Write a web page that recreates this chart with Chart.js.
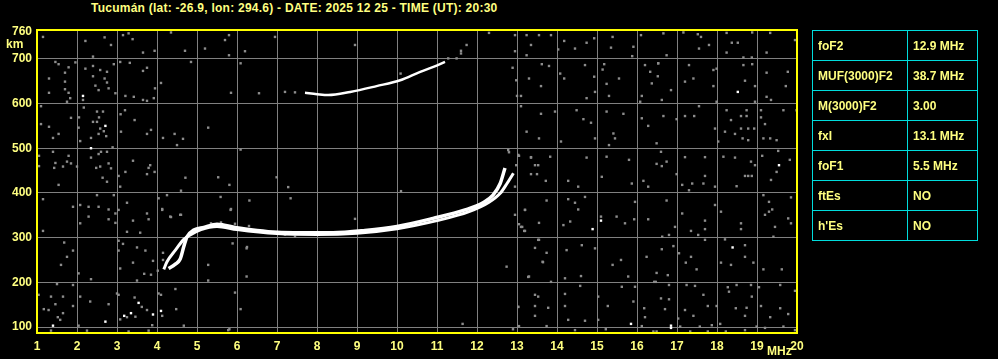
<!DOCTYPE html>
<html>
<head>
<meta charset="utf-8">
<script src="https://cdn.jsdelivr.net/npm/chart.js@4.4.1/dist/chart.umd.min.js"></script>
<style>
  body { margin: 0; background: #000; width: 998px; height: 359px; overflow: hidden; position: relative; }
  #title { position: absolute; left: 91px; top: 1px; color: #ffff80; font: bold 12px "Liberation Sans", Arial, sans-serif; letter-spacing: 0.25px; white-space: nowrap; }
  #params { position: absolute; left: 812px; top: 30px; border-collapse: collapse; border: 1px solid #00dcdc; }
  #params td { border: 1px solid #00dcdc; height: 29px; padding: 0 0 0 5px; color: #ffff80; font: bold 12px "Liberation Sans", Arial, sans-serif; }
  #params td:first-child { width: 89px; }
  #params td:last-child { width: 64px; }
  canvas { position: absolute; left: 0; top: 0; }
</style>
</head>
<body>
<div id="title">Tucumán (lat: -26.9, lon: 294.6) - DATE: 2025 12 25 - TIME (UT): 20:30</div>
<canvas id="ionogram" width="998" height="359"></canvas>
<table id="params"></table>
<script>
// scaled parameters shown in the side table
const paramNames  = ['foF2', 'MUF(3000)F2', 'M(3000)F2', 'fxI', 'foF1', 'ftEs', "h'Es"];
const paramValues = ['12.9 MHz', '38.7 MHz', '3.00', '13.1 MHz', '5.5 MHz', 'NO', 'NO'];

// axis ticks
const freqTicks = [1,2,3,4,5,6,7,8,9,10,11,12,13,14,15,16,17,18,19,20];
const heightTicks = [100, 200, 300, 400, 500, 600, 700, 760];

// F trace, ordinary (MHz, km)
const oFreq   = [4.29, 4.45, 4.58, 4.67, 4.75, 4.92, 5.17, 5.5, 6.0, 6.5, 7.0, 7.6, 8.4, 9.2, 10.0, 10.9, 11.7, 12.15, 12.4, 12.58, 12.7];
const oHeight = [231, 240, 252, 280, 302, 317, 323, 330, 322, 316, 312, 311, 311, 316, 325, 343, 362, 378, 395, 421, 456];
// F trace, extraordinary
const xFreq   = [4.17, 4.25, 4.46, 4.67, 4.83, 5.1, 5.5, 6.0, 7.0, 8.0, 9.0, 10.0, 11.0, 11.8, 12.3, 12.58, 12.75, 12.91];
const xHeight = [229, 246, 272, 296, 306, 318, 325, 318, 309, 307, 310, 320, 338, 358, 379, 399, 421, 444];
// second hop trace
const hopFreq   = [7.7, 8.0, 8.28, 8.83, 9.49, 10.08, 10.58, 10.91, 11.2];
const hopHeight = [624, 621, 619, 626, 639, 652, 671, 682, 693];

// scattered echoes (MHz, km)
const noiseLeft = [[1.15,749],[2.21,740],[2.69,748],[2.85,731],[3.15,753],[3.29,757],[3.39,744],[3.65,714],[3.94,718],[4.35,759],[4.7,718],[2.4,705],[1.46,693],[1.54,688],[1.79,681],[1.96,692],[1.7,669],[1.3,656],[1.7,649],[1.7,632],[1.79,624],[1.3,624],[1.83,612],[1.75,604],[2.15,608],[2.4,684],[2.58,675],[2.75,671],[2.92,688],[2.21,678],[2.4,661],[2.69,656],[2.75,647],[2.46,640],[2.54,630],[2.79,634],[2.96,623],[3.08,693],[3.32,691],[3.65,673],[3.75,680],[4.1,646],[3.95,634],[3.21,617],[3.42,615],[3.65,608],[3.75,606],[3.92,612],[4.85,693],[1.1,594],[2.17,591],[2.5,582],[2.65,582],[2.55,569],[2.05,569],[1.85,568],[2.4,559],[2.5,559],[2.58,544],[2.67,538],[2.54,532],[2.73,527],[2.35,523],[2.08,516],[2.04,546],[1.3,548],[1.1,554],[1.4,523],[1.54,532],[3.09,576],[3.2,585],[3.44,563],[3.1,537],[3.75,532],[3.85,541],[4.15,523],[4.44,532],[4.65,521],[4.5,507],[2.89,502],[2.6,492],[2.75,492],[2.54,487],[2.35,479],[1.4,492],[1.79,483],[1.05,483],[1.46,467],[1.75,470],[1.85,466],[1.65,459],[1.43,456],[1.05,460],[2.0,459],[2.58,459],[2.48,456],[2.79,466],[2.85,455],[3.4,472],[3.83,462],[3.79,456],[3.94,447],[3.75,442],[3.21,447],[3.04,438],[2.64,434],[4.71,434],
  [1.54,418],[2.75,425],[3.08,414],[1.15,386],[2.5,395],[2.92,395],[1.9,369],[2.08,373],[2.29,369],[2.54,369],[2.79,363],[3.04,362],[2.96,354],[2.29,347],[2.08,332],[2.79,341],[2.96,333],[3.25,378],[3.4,338],[3.25,313],[3.58,311],[3.75,354],[3.79,341],[4.13,362],[4.33,347],[4.58,351],[4.04,388],[4.25,395],[4.6,405],[1.15,315],[1.68,289],[1.9,271],[1.75,257],[1.6,239],[2.04,220],[3.04,293],[3.04,271],[3.15,286],[3.5,278],[3.71,271],[3.4,244],[3.08,231],[3.9,248],[3.68,219],[3.85,217],[4.15,266],[4.15,250],[4.02,226],[2.35,207],[3.5,204],[1.5,196],[1.9,194],[1.04,172],[1.35,168],[1.65,168],[2.08,168],[2.33,157],[1.46,151],[1.17,140],[1.29,138],[1.9,147],[1.65,131],[1.52,122],[1.58,116],[2.04,103],[2.79,151],[3.0,175],[3.04,172],[3.44,166],[3.62,145],[3.75,138],[4.04,175],[4.1,172],[4.46,185],[4.48,140],[4.13,125],[3.88,104],[3.08,117],[3.25,122],[3.46,123],[4.67,103],[2.25,92],[3.29,90],[3.79,92],[1.35,92]];

const noiseMid = [[5.7,742],[5.8,753],[5.8,708],[6.2,717],[6.95,749],[8.95,731],[12.3,758],[12.95,753],[12.95,717],[5.2,723],[6.09,690],[5.85,624],[6.55,623],[10.09,667],[12.89,680],[12.98,652],[13.0,617],[5.28,546],[6.09,497],[5.53,435],[5.81,418],[6.99,435],[7.28,413],[7.34,388],[5.59,391],[6.31,383],[5.84,362],[4.13,364],[4.35,346],[4.6,351],[10.1,404],[8.95,342],[12.95,414],[12.95,351],[12.78,496],[13.03,483],[12.98,462],[5.89,287],[6.24,276],[7.45,302],[5.28,239],[5.28,204],[6.24,213],[5.95,177],[6.09,140],[5.81,95],[11.64,107],[12.74,235],[13.03,145],[12.9,95],[5.85,364],[6.25,279],[5.78,93],
  [7.2,626],[7.45,625],[11.28,701],[11.49,701],[11.6,712],[11.74,731],[11.6,718],
  [13.13,324],[13.53,295],[13.65,245],[13.28,212],[13.45,172],[13.2,362],[13.18,315],[13.05,330],[13.45,277],[12.8,491],[13.03,485],[13.35,480],[13.5,442],
  [5.35,332],[5.6,334],[5.95,331],[6.3,326],[7.2,307],[8.7,309],[9.8,322],[11.9,364],[12.3,384]];

const noiseRight = [[13.24,753],[13.55,753],[13.85,753],[14.18,740],[14.74,736],[14.93,746],[15.39,749],[15.91,727],[16.1,753],[13.35,731],[14.03,721],[14.45,723],[15.35,725],[13.24,708],[15.88,706],[13.62,688],[13.8,684],[14.7,686],[15.18,688],[15.14,676],[16.2,686],[16.53,690],[14.08,667],[13.3,656],[14.18,656],[14.93,660],[15.55,656],[16.33,671],[16.37,645],[13.6,639],[15.24,644],[14.95,626],[14.74,612],[15.3,617],[13.1,617],[16.12,617],[16.08,604],[13.1,594],[13.6,577],[13.95,582],[14.49,585],[14.66,565],[14.85,557],[15.24,582],[15.66,577],[16.12,567],[16.28,550],[13.24,537],[13.55,522],[14.1,515],[14.95,522],[15.41,533],[15.45,522],[15.3,507],[13.05,483],[13.35,479],[13.83,481],[14.74,479],[15.24,481],[15.8,474],[13.45,462],[13.53,462],[13.35,442],[14.28,427],[13.72,427],[14.53,414],[15.12,436],[15.87,421],[16.28,414],[16.16,427],[13.2,362],[13.74,383],[14.28,386],[14.45,378],[14.7,391],[14.53,363],[14.33,336],[14.16,328],[15.1,347],[15.49,347],[15.7,332],[15.95,380],[15.93,341],[16.28,341],[13.1,324],[13.2,315],[13.55,333],[13.55,295],[14.24,272],[14.62,283],[14.95,276],[13.64,246],[13.74,266],[13.3,213],[13.85,201],[14.2,209],[14.6,214],[15.39,239],[15.6,250],[15.78,213],[15.62,190],[15.95,190],[16.43,201],[16.24,257],[13.53,168],[14.2,174],[14.58,192],[15.03,168],[15.91,157],[13.03,145],[13.45,147],[13.78,143],[14.2,147],[15.27,147],[16.18,142],[13.45,125],[14.28,116],[14.7,114],[15.03,116],[16.2,122],[13.05,102],[13.74,102],[14.45,93],[15.22,95],[16.12,102],[16.41,90],
  [16.66,757],[17.16,759],[17.52,755],[17.6,749],[17.8,731],[18.24,758],[18.37,736],[18.52,736],[18.88,759],[19.33,758],[19.95,742],[16.74,708],[17.55,723],[18.24,714],[18.66,703],[18.87,703],[19.24,714],[16.53,690],[17.3,686],[17.91,675],[17.99,678],[18.66,686],[18.88,688],[19.24,669],[19.77,671],[16.52,661],[17.2,649],[17.41,656],[17.91,639],[18.7,651],[18.95,639],[19.72,639],[19.24,615],[19.35,608],[16.85,630],[16.62,608],[17.99,604],[18.95,604],[17.55,594],[18.24,585],[18.74,585],[19.1,585],[19.66,585],[19.99,585],[16.66,572],[17.2,572],[17.43,572],[18.6,572],[18.74,572],[19.1,569],[19.2,554],[16.99,565],[18.35,563],[17.95,544],[18.2,537],[18.6,544],[18.78,544],[18.93,544],[18.45,532],[18.64,522],[18.78,518],[19.16,522],[19.33,522],[19.49,518],[16.49,511],[18.03,515],[16.6,492],[17.2,480],[17.7,480],[18.16,481],[18.45,479],[18.85,470],[18.95,462],[19.13,483],[19.53,494],[19.82,474],[16.49,465],[16.62,460],[16.74,470],[16.99,442],[17.7,438],[18.7,438],[18.78,438],[18.87,438],[18.49,415],[19.35,429],[19.49,447],[17.13,418],[17.3,406],[17.38,421],[17.66,421],[17.95,414],[16.74,383],[17.95,373],[18.1,358],[18.6,332],[18.6,319],[19.16,395],[19.3,380],[19.2,351],[19.3,358],[19.38,363],[19.45,324],[19.41,302],[19.85,390],[19.85,332],[19.78,343],[17.13,354],[17.7,338],[17.7,319],[16.95,324],[16.8,306],[16.63,302],[17.35,315],[17.53,306],[17.7,295],[18.2,296],[18.7,283],[16.62,274],[16.91,281],[17.05,265],[17.35,257],[17.22,244],[17.49,229],[18.1,244],[18.35,239],[18.7,257],[18.91,244],[19.16,229],[19.62,229],[16.49,221],[16.77,216],[16.47,201],[16.8,194],[17.24,194],[17.45,192],[18.27,189],[18.49,194],[18.85,194],[19.05,189],[19.58,194],[18.3,179],[17.66,172],[18.87,168],[19.1,147],[19.95,181],[19.78,129],[19.58,142],[19.33,122],[16.6,164],[16.8,162],[16.7,140],[17.2,138],[17.41,125],[17.03,119],[17.77,147],[17.99,147],[18.47,142],[18.74,143],[18.7,125],[18.08,107],[17.08,101],[17.57,101],[17.87,104],[18.22,90],[18.7,93],[18.99,101],[19.2,98],[19.66,101],[16.49,90],[17.33,90],[17.77,90],[19.95,93]];

const noiseWhite = [[2.15,617],[2.71,550],[2.35,500],[1.4,103],[2.71,112],[3.54,154],[3.9,128],[4.1,136],[3.18,125],[3.35,131],[15.1,338],[14.89,319],[15.85,107],[18.52,626],[19.55,462],[18.39,278],[16.85,98],[16.85,103]];

const tbl = document.getElementById('params');
for (let i = 0; i < paramNames.length; i++) {
  const tr = document.createElement('tr');
  tr.innerHTML = '<td>' + paramNames[i] + '</td><td>' + paramValues[i] + '</td>';
  tbl.appendChild(tr);
}

function toPoints(xs, ys) {
  return xs.map((x, i) => ({x: x, y: ys[i]}));
}
function pairs(list) {
  return list.map(p => ({x: p[0], y: p[1]}));
}

const labelFont = {family: '"Liberation Sans", Arial, sans-serif', size: 12, weight: 'bold'};

// yellow frame round the plot plus unit labels
const framePlugin = {
  id: 'frame',
  afterDraw(chart) {
    const ctx = chart.ctx, a = chart.chartArea;
    ctx.save();
    ctx.strokeStyle = '#ffff00';
    ctx.lineWidth = 2;
    ctx.strokeRect(a.left, a.top, a.right - a.left, a.bottom - a.top);
    ctx.fillStyle = '#ffff80';
    ctx.font = 'bold 12px "Liberation Sans", Arial, sans-serif';
    ctx.textBaseline = 'middle';
    ctx.textAlign = 'left';
    ctx.fillText('km', 6, 45);
    ctx.fillText('MHz', 767, 352);
    ctx.restore();
  }
};

const lineStyle = {type: 'line', borderColor: '#ffffff', pointRadius: 0, fill: false, cubicInterpolationMode: 'monotone', order: 0};
const dotStyle = {type: 'scatter', pointStyle: 'rect', pointRadius: 1.7, pointBorderWidth: 0, order: 2};

new Chart(document.getElementById('ionogram'), {
  type: 'scatter',
  data: {
    datasets: [
      Object.assign({label: 'o', data: toPoints(oFreq, oHeight), borderWidth: 3.5}, lineStyle),
      Object.assign({label: 'x', data: toPoints(xFreq, xHeight), borderWidth: 3}, lineStyle),
      Object.assign({label: 'hop', data: toPoints(hopFreq, hopHeight), borderWidth: 2.5}, lineStyle),
      Object.assign({label: 'white', data: pairs(noiseWhite), pointBackgroundColor: '#ffffff'}, dotStyle, {order: 1}),
      Object.assign({label: 'left', data: pairs(noiseLeft), pointBackgroundColor: '#8c8c8c'}, dotStyle),
      Object.assign({label: 'mid', data: pairs(noiseMid), pointBackgroundColor: '#8c8c8c'}, dotStyle),
      Object.assign({label: 'right', data: pairs(noiseRight), pointBackgroundColor: '#8c8c8c'}, dotStyle)
    ]
  },
  options: {
    responsive: false,
    devicePixelRatio: 1,
    animation: false,
    layout: {padding: {top: 30, right: 201, left: 0, bottom: 0}},
    plugins: {legend: {display: false}, title: {display: false}, tooltip: {enabled: false}},
    scales: {
      x: {
        type: 'linear', min: 1, max: 20,
        afterBuildTicks: axis => { axis.ticks = freqTicks.map(v => ({value: v})); },
        afterFit: axis => { axis.height = 26; },
        grid: {color: '#808080', lineWidth: 1, drawTicks: false},
        border: {display: false},
        ticks: {color: '#ffff80', font: labelFont, padding: 6, maxRotation: 0, autoSkip: false}
      },
      y: {
        type: 'linear', min: 86.6, max: 764.5,
        afterBuildTicks: axis => { axis.ticks = heightTicks.map(v => ({value: v})); },
        afterFit: axis => { axis.width = 37; },
        grid: {color: c => (c.tick && c.tick.value === 760) ? 'rgba(0,0,0,0)' : '#808080', lineWidth: 1, drawTicks: false},
        border: {display: false},
        ticks: {color: '#ffff80', font: labelFont, padding: 5, autoSkip: false}
      }
    }
  },
  plugins: [framePlugin]
});
</script>
</body>
</html>
